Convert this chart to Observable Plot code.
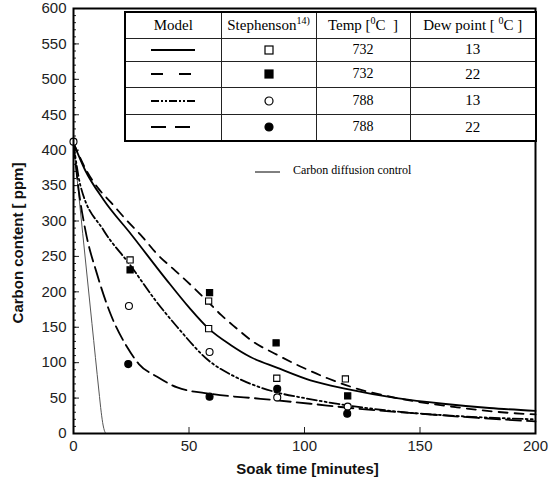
<!DOCTYPE html>
<html><head><meta charset="utf-8">
<script src="https://cdn.jsdelivr.net/npm/d3@7"></script>
<script src="https://cdn.jsdelivr.net/npm/@observablehq/plot@0.6"></script>
<style>
body{margin:0;background:#fff;}
#wrap{position:relative;width:550px;height:487px;overflow:hidden;}
#legend{position:absolute;left:124px;top:11px;width:411px;border-collapse:collapse;table-layout:fixed;
  font-family:"Liberation Serif","Times New Roman",serif;font-size:15px;color:#000;border:2px solid #000;background:#fff;}
#legend td{border:1px solid #222;text-align:center;padding:0;line-height:1;}
#legend sup{font-size:10px;vertical-align:6px;line-height:0;}
#legend svg{display:block;margin:0 auto;}
#diff{position:absolute;left:255px;top:163px;display:flex;align-items:center;font-family:"Liberation Serif","Times New Roman",serif;font-size:12px;}
</style></head>
<body>
<div id="wrap">
  <div id="chart"></div>
  <table id="legend">
    <colgroup><col style="width:96px"><col style="width:95px"><col style="width:94px"><col style="width:126px"></colgroup>
    <tbody id="legbody">
      <tr style="height:26px"><td>Model</td><td>Stephenson<sup>14)</sup></td><td>Temp [<sup>0</sup>C&nbsp; ]</td><td>Dew point [ <sup>0</sup>C ]</td></tr>
    </tbody>
  </table>
  <div id="diff"><svg width="26" height="10"><line x1="0" x2="25" y1="6" y2="6" stroke="#000" stroke-width="1"/></svg><span style="margin-left:12px">Carbon diffusion control</span></div>
</div>
<script>
// Model curves (soak time in minutes, carbon content in ppm)
const m732_13_t = [0, 5, 13, 25, 40, 50, 58.5, 68, 76.6, 88, 102.6, 118, 140, 160, 180, 200];
const m732_13_c = [410, 372, 330, 281, 218, 178, 148, 125, 108, 93, 75, 63, 50, 42, 36, 32];

const m732_22_t = [0, 6, 11, 16, 23, 30, 36, 44, 51, 58.5, 64, 70, 78, 87, 98, 110, 121, 140, 166, 189, 200];
const m732_22_c = [410, 369, 345, 327, 301, 277, 254, 230, 209, 185, 167, 150, 129, 113, 95, 78, 65, 50, 37, 29, 27];

const m788_13_t = [0, 3, 13, 24.5, 35, 45, 58.5, 70, 88, 100, 118, 140, 170, 200];
const m788_13_c = [410, 350, 287, 238, 190, 150, 103, 80, 58, 50, 40, 31, 24, 20];

const m788_22_t = [0, 2, 5.2, 10.2, 16, 23.2, 28.3, 36.2, 44.9, 59.3, 81, 102.6, 120, 150, 175, 200];
const m788_22_c = [410, 350, 286, 225, 169, 122, 98, 80, 65, 56, 49, 42, 36, 28, 22, 17];

const diff_t = [0, 4, 8, 11, 12, 12.8, 13.5, 14];
const diff_c = [410, 282, 155, 60, 30, 12, 3, 0];

// Stephenson measurements
const s732_13_t = [24.5, 58.5, 58.5, 88, 117.7];
const s732_13_c = [245, 187, 148, 78, 77];
const s732_22_t = [24.5, 58.9, 87.7, 118.7];
const s732_22_c = [231, 199, 128, 53];
const s788_13_t = [0, 24, 58.9, 88.2, 118.7];
const s788_13_c = [412, 180, 115, 51, 38];
const s788_22_t = [23.7, 58.9, 88.2, 118.5];
const s788_22_c = [98, 52, 63, 28];

// Legend table text
const legTemp = ["732", "732", "788", "788"];
const legDew = ["13", "22", "13", "22"];

const xTicks = [0, 50, 100, 150, 200];
const yTicks = [0, 50, 100, 150, 200, 250, 300, 350, 400, 450, 500, 550, 600];
const yMinor = d3.range(0, 601, 10);

const zip = (t, c) => t.map((v, i) => ({t: v, c: c[i]}));

const styles = [
  {dash: null, symbol: "square", fill: "white"},
  {dash: "9,7", symbol: "square", fill: "black"},
  {dash: "10,3,2,3,2,3", symbol: "circle", fill: "white"},
  {dash: "15,6", symbol: "circle", fill: "black"}
];
const models = [zip(m732_13_t, m732_13_c), zip(m732_22_t, m732_22_c), zip(m788_13_t, m788_13_c), zip(m788_22_t, m788_22_c)];
const meas = [zip(s732_13_t, s732_13_c), zip(s732_22_t, s732_22_c), zip(s788_13_t, s788_13_c), zip(s788_22_t, s788_22_c)];

const marks = [
  Plot.axisY(yMinor, {tickSize: -3, tickFormat: () => "", label: null}),
  Plot.axisY(yTicks, {tickSize: -6, tickPadding: 13, label: null, fill: "#222"}),
  Plot.axisX(xTicks, {tickSize: -6, tickPadding: 13, label: null, fill: "#222"}),
  Plot.line(zip(diff_t, diff_c), {x: "t", y: "c", stroke: "#555", strokeWidth: 1, curve: "monotone-x"})
];
models.forEach((d, i) => marks.push(Plot.line(d, {x: "t", y: "c", stroke: "black", strokeWidth: 1.8, strokeDasharray: styles[i].dash, curve: "monotone-x"})));
meas.forEach((d, i) => marks.push(Plot.dot(d, {x: "t", y: "c", symbol: styles[i].symbol, fill: styles[i].fill, stroke: "black", strokeWidth: 1.1, r: 3.5})));
marks.push(Plot.frame({strokeWidth: 2, stroke: "black"}));
marks.push(Plot.text(["Soak time [minutes]"], {frameAnchor: "bottom", dy: 40, dx: 3, fontWeight: "bold", fontSize: 15, fill: "#111"}));
marks.push(Plot.text(["Carbon content [ ppm]"], {frameAnchor: "left", textAnchor: "middle", dx: -55, dy: 22, rotate: -90, fontWeight: "bold", fontSize: 15, fill: "#111"}));

const chart = Plot.plot({
  width: 550, height: 487,
  marginLeft: 73, marginRight: 15, marginTop: 8, marginBottom: 54,
  x: {domain: [0, 200]},
  y: {domain: [0, 600]},
  style: {fontFamily: "'Liberation Sans', Arial, sans-serif", fontSize: "15px", background: "white", color: "#222"},
  marks
});
document.getElementById("chart").appendChild(chart);

// legend rows
const body = document.getElementById("legbody");
const rowH = [23, 26, 27, 27];
styles.forEach((s, i) => {
  const tr = document.createElement("tr");
  tr.style.height = rowH[i] + "px";
  const dashAttr = s.dash ? `stroke-dasharray="${i === 1 ? "12,16" : i === 3 ? "15,9" : "8,2,2,2,2,2"}"` : "";
  const sym = s.symbol === "square"
    ? `<rect x="2" y="2" width="8" height="8" fill="${s.fill}" stroke="#000" stroke-width="1.2"/>`
    : `<circle cx="6" cy="6" r="4" fill="${s.fill}" stroke="#000" stroke-width="1.2"/>`;
  tr.innerHTML = `<td><svg width="44" height="6"><line x1="0" x2="44" y1="3" y2="3" stroke="#000" stroke-width="2" ${dashAttr}/></svg></td>` +
    `<td><svg width="12" height="12">${sym}</svg></td>` +
    `<td style="font-size:14px">${legTemp[i]}</td><td style="font-size:15px">${legDew[i]}</td>`;
  body.appendChild(tr);
});
</script>
</body></html>
